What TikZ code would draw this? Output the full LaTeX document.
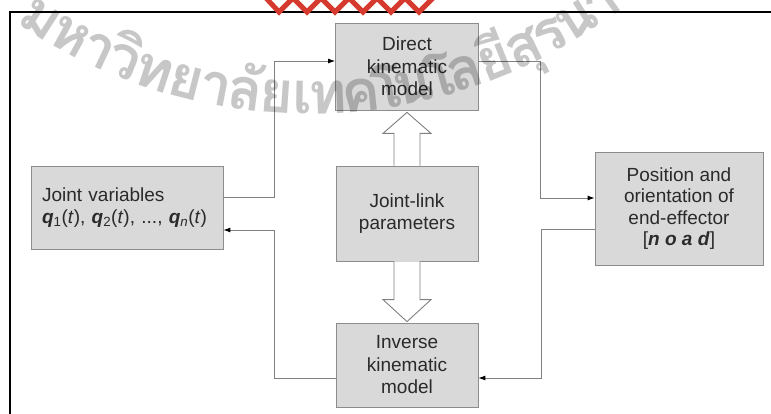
\documentclass[tikz,border=0pt]{standalone}
\usepackage{fontspec}
\setmainfont{Liberation Sans}
\newfontfamily\thaifont[Script=Thai]{Loma}
\usetikzlibrary{arrows.meta}
\definecolor{boxfill}{HTML}{D9D9D9}
\definecolor{boxline}{HTML}{8C8C8C}
\definecolor{wire}{HTML}{808080}
\definecolor{ink}{HTML}{2A2A2A}
\definecolor{logored}{HTML}{D63A2F}
\newcommand\qvar[1]{\textbf{\textit{q}}\textsubscript{#1}(\textit{t})}
\tikzset{
 blk/.style={draw=boxline, fill=boxfill, line width=0.8pt, inner sep=0pt, text=ink,
   font=\fontsize{19}{22.5}\selectfont, align=center},
 conn/.style={draw=wire, line width=0.9pt},
 arr/.style={conn, -{Latex[length=7pt,width=5pt,color=black]}},
 hollow/.style={draw=wire, fill=white, line width=0.9pt, line join=miter},
 wm/.style={anchor=base, inner sep=0pt, text=black, text opacity=0.22,
   font=\thaifont\bfseries\fontsize{58}{58}\selectfont},
}
\begin{document}
\begin{tikzpicture}[x=1pt,y=-1pt]
\useasboundingbox (0,0) rectangle (771,414);
\clip (0,0) rectangle (771,414);
\fill[white] (0,0) rectangle (771,414);
% frame
\draw[line width=1.6pt] (10,420) -- (10,12) -- (775,12);

% boxes
\node[blk, minimum width=143pt, minimum height=87pt] (direct) at (407,66.5) {Direct\\kinematic\\model};
\node[blk, minimum width=142pt, minimum height=95pt] (joint) at (407,213.5) {Joint-link\\parameters};
\node[blk, minimum width=142pt, minimum height=84pt] (inverse) at (407,365) {Inverse\\kinematic\\model};
\node[blk, minimum width=192pt, minimum height=83pt, align=left, text width=170pt] (left) at (127,207.5)
  {Joint variables\\\qvar{1}, \qvar{2}, ..., \textbf{\textit{q}}\textsubscript{\textit{n}}(\textit{t})};
\node[blk, minimum width=168pt, minimum height=113pt, font=\fontsize{19}{21.5}\selectfont] (right) at (679,208.5)
  {Position and\\orientation of\\end-effector\\{[}\textbf{\textit{n o a d}}{]}};

% connectors
\draw[arr] ([yshift=10.5pt]left.east) -| ([xshift=-61pt,yshift=5.5pt]direct.west) -- ([yshift=5.5pt]direct.west);
\draw[arr] ([yshift=5.5pt]direct.east) -| ([xshift=-54pt,yshift=10.5pt]right.west) -- ([yshift=10.5pt]right.west);
\draw[arr] ([yshift=-20.5pt]right.west) -| ([xshift=63pt,yshift=-13pt]inverse.east) -- ([yshift=-13pt]inverse.east);
\draw[arr] ([yshift=-13pt]inverse.west) -| ([xshift=51pt,yshift=-22.5pt]left.east) -- ([yshift=-22.5pt]left.east);

% hollow arrows
\draw[hollow] ([xshift=-13pt]joint.north) -- ([xshift=-13pt,yshift=-23pt]direct.south)
  -- ([xshift=-24pt,yshift=-23pt]direct.south) -- ([yshift=-2pt]direct.south)
  -- ([xshift=24pt,yshift=-23pt]direct.south) -- ([xshift=13pt,yshift=-23pt]direct.south)
  -- ([xshift=13pt]joint.north);
\draw[hollow] ([xshift=-13pt]joint.south) -- ([xshift=-13pt,yshift=23pt]inverse.north)
  -- ([xshift=-24pt,yshift=23pt]inverse.north) -- ([yshift=1pt]inverse.north)
  -- ([xshift=24pt,yshift=23pt]inverse.north) -- ([xshift=13pt,yshift=23pt]inverse.north)
  -- ([xshift=13pt]joint.south);

% watermark
\foreach \a/\c in {237.3/ม, 241.2/ห, 244.8/า, 248.1/วิ, 251.8/ท, 255.6/ย, 259.1/า, 262.5/ลั,
  266.2/ย, 269.1/เ, 272.1/ท, 275.9/ค, 278.9/โ, 282.0/น, 285.1/โ, 288.1/ล, 291.8/ยี,
  295.5/สุ, 298.8/ร, 302.3/น, 305.8/า, 308.9/รี}{
  \pgfmathsetmacro\rot{\a-270}
  \path (310,-401) ++(-\a:515) node[wm, rotate=\rot] {\c};
}
% logo fragment
\draw[logored, line width=5pt, line join=miter] (266,-2) -- (279,12) -- (293,-2) -- (307,12) -- (321,-2)
  -- (335,12) -- (349,-2) -- (363,12) -- (377,-2) -- (391,12) -- (405,-2) -- (419,12) -- (433,-2);
\end{tikzpicture}
\end{document}
